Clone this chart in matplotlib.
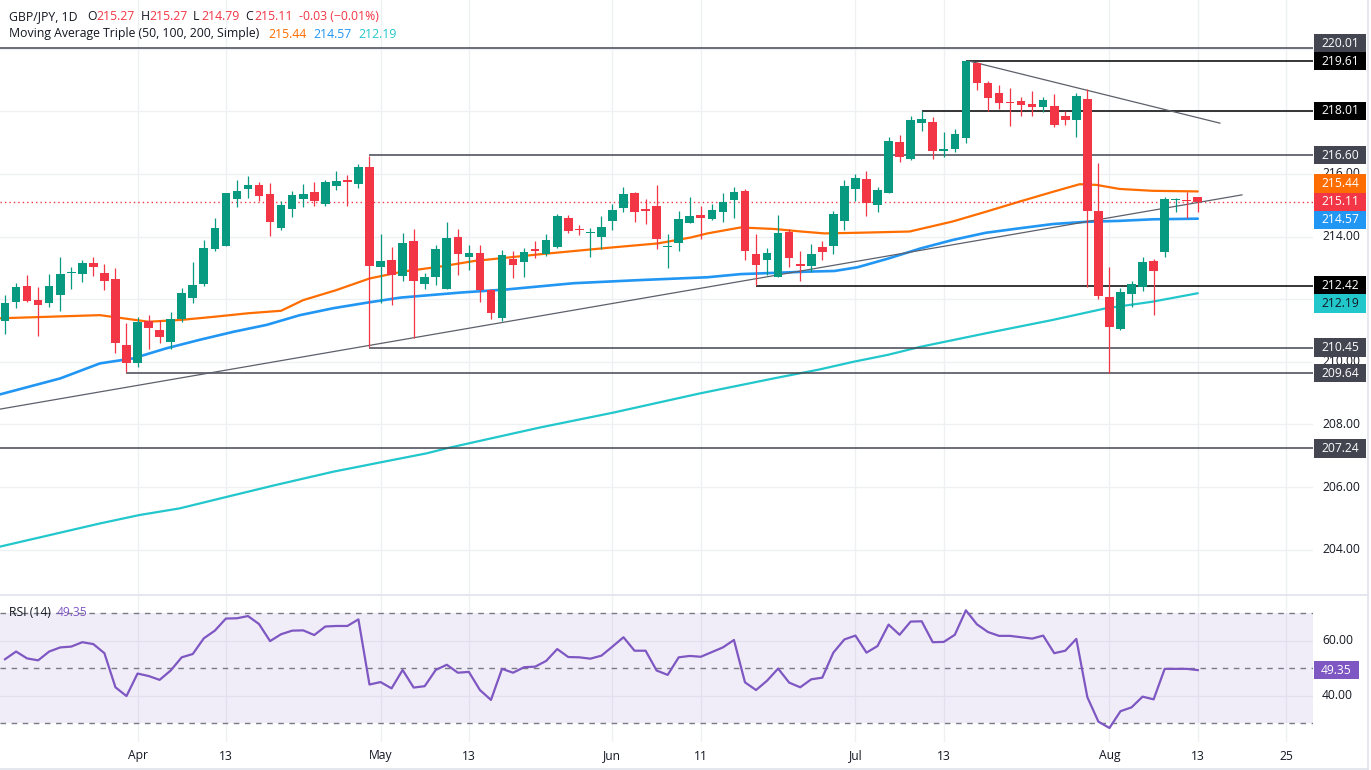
import matplotlib
matplotlib.use('Agg')
import matplotlib.pyplot as plt
import matplotlib.transforms as mtransforms
from matplotlib.patches import Rectangle

plt.rcParams['font.family'] = ['Open Sans', 'DejaVu Sans']

# ---------------- data ----------------
opens = [211.31, 211.92, 212.42, 211.97, 211.89, 212.14, 212.83, 212.80, 213.14, 212.83,
         212.63, 210.54, 209.97, 211.31, 211.02, 210.64, 211.36, 212.05, 212.48, 213.59,
         213.71, 215.19, 215.51, 215.64, 215.36, 214.26, 214.89, 215.21, 215.41, 215.03,
         215.62, 215.80, 215.67, 216.23, 213.04, 213.25, 212.74, 213.86, 212.50, 212.72,
         212.34, 213.99, 213.36, 213.46, 212.29, 211.41, 213.27, 213.20, 213.59, 213.44,
         213.68, 214.58, 214.23, 214.10, 214.00, 214.51, 214.92, 215.40, 214.87, 214.98,
         213.66, 213.80, 214.44, 214.69, 214.55, 214.79, 215.17, 215.46, 213.44, 213.25,
         212.72, 214.16, 213.12, 213.06, 213.68, 213.70, 214.51, 215.52, 215.83, 215.01,
         215.38, 217.01, 216.48, 217.64, 217.65, 216.73, 216.80, 217.16, 219.53, 218.91,
         218.59, 218.31, 218.33, 218.23, 218.13, 218.17, 217.85, 217.72, 218.38, 214.82,
         212.06, 211.05, 212.16, 212.40, 213.22, 213.51, 215.16, 215.17, 215.27]
highs = [212.13, 212.53, 212.77, 212.40, 212.80, 213.36, 213.04, 213.25, 213.34, 213.11,
         212.98, 211.25, 211.44, 211.49, 211.34, 211.60, 212.36, 213.20, 213.89, 214.58,
         215.40, 215.80, 215.93, 215.75, 215.70, 215.13, 215.45, 215.68, 215.75, 215.80,
         216.09, 215.96, 216.30, 216.58, 214.07, 213.68, 214.12, 214.25, 212.85, 213.73,
         214.47, 214.25, 213.73, 213.73, 212.31, 213.57, 213.55, 213.62, 213.87, 214.08,
         214.72, 214.69, 214.37, 214.26, 214.66, 215.03, 215.57, 215.43, 215.19, 215.65,
         214.08, 214.81, 215.27, 214.98, 215.04, 215.40, 215.59, 215.51, 214.08, 213.62,
         214.69, 214.23, 213.55, 213.75, 213.87, 214.81, 215.80, 216.00, 216.10, 215.57,
         217.17, 217.24, 217.85, 218.02, 217.81, 217.33, 217.42, 219.64, 219.58, 218.97,
         218.84, 218.73, 218.47, 218.65, 218.47, 218.55, 218.01, 218.57, 218.70, 216.36,
         213.04, 212.35, 212.59, 213.34, 213.28, 215.25, 215.24, 215.43, 215.27]
lows = [210.88, 211.71, 211.90, 210.84, 211.74, 211.63, 212.31, 212.56, 212.74, 212.29,
        210.27, 209.68, 209.84, 210.40, 210.59, 210.40, 211.28, 211.87, 212.42, 213.55,
        213.71, 214.95, 215.24, 215.15, 214.03, 214.21, 214.63, 214.95, 214.99, 214.99,
        215.49, 214.99, 215.54, 210.48, 211.87, 211.81, 212.59, 210.75, 212.32, 212.45,
        212.32, 212.77, 212.93, 211.92, 211.36, 211.31, 212.69, 212.70, 213.30, 213.38,
        213.62, 214.12, 214.05, 213.36, 213.59, 214.21, 214.79, 214.47, 214.40, 213.59,
        212.98, 213.54, 214.42, 213.91, 214.53, 214.47, 214.58, 213.25, 212.45, 212.77,
        212.70, 213.02, 212.59, 212.88, 213.25, 213.44, 214.21, 215.15, 214.66, 214.79,
        215.38, 216.37, 216.44, 217.38, 216.48, 216.53, 216.71, 216.98, 218.68, 218.01,
        218.07, 217.54, 217.85, 217.85, 217.99, 217.51, 217.56, 217.19, 212.40, 212.02,
        209.63, 211.02, 211.76, 212.27, 211.49, 213.34, 214.79, 214.58, 214.79]
closes = [211.87, 212.40, 211.95, 211.82, 212.42, 212.80, 212.88, 213.14, 213.04, 212.59,
          210.61, 209.95, 211.28, 211.07, 210.80, 211.36, 212.19, 212.45, 213.62, 214.26,
          215.38, 215.45, 215.64, 215.29, 214.48, 215.01, 215.33, 215.35, 215.12, 215.74,
          215.76, 215.75, 216.23, 213.07, 213.22, 212.77, 213.80, 212.58, 212.72, 213.61,
          213.95, 213.43, 213.49, 212.29, 211.55, 213.41, 213.09, 213.52, 213.55, 213.89,
          214.66, 214.18, 214.21, 214.12, 214.29, 214.85, 215.36, 214.79, 214.83, 213.91,
          213.70, 214.56, 214.66, 214.60, 214.85, 215.11, 215.43, 213.55, 213.09, 213.46,
          214.12, 213.33, 213.07, 213.44, 213.52, 214.72, 215.61, 215.86, 215.06, 215.49,
          217.05, 216.55, 217.72, 217.75, 216.74, 216.79, 217.26, 219.60, 218.89, 218.43,
          218.25, 218.27, 218.20, 218.15, 218.36, 217.56, 217.72, 218.49, 214.83, 212.11,
          211.12, 212.22, 212.50, 213.18, 212.91, 215.19, 215.20, 215.14, 215.11]

rsi = [53.3, 56.1, 53.6, 52.9, 56.1, 57.6, 57.9, 59.5, 58.8, 55.5,
       43.1, 39.9, 48.1, 47.2, 45.8, 49.2, 54.0, 55.2, 60.9, 63.7,
       68.1, 68.2, 69.0, 66.1, 59.9, 62.4, 63.7, 63.8, 62.1, 65.2,
       65.4, 65.4, 67.8, 44.1, 45.0, 42.7, 49.4, 43.0, 43.5, 49.4,
       51.3, 48.4, 48.7, 42.1, 38.5, 49.8, 48.4, 50.4, 50.6, 52.7,
       57.0, 54.1, 54.0, 53.5, 54.6, 57.9, 61.3, 56.4, 56.4, 49.2,
       47.6, 54.0, 54.5, 54.2, 55.9, 57.6, 60.3, 44.9, 42.1, 45.5,
       49.9, 44.8, 43.1, 46.0, 46.6, 55.7, 60.5, 61.9, 55.7, 58.1,
       65.9, 62.2, 67.0, 67.1, 59.5, 59.6, 62.2, 71.1, 66.0, 63.2,
       61.8, 61.8, 61.3, 60.8, 61.9, 55.5, 56.4, 60.7, 39.5, 30.6,
       28.3, 34.4, 35.8, 39.7, 38.7, 49.8, 49.8, 49.8, 49.35]

# moving averages, read at sample bars (bar index, value)
ma50_idx = [-0.45, 8.6, 13, 16, 19, 22, 25, 27, 30, 33, 36, 39.4, 42.5, 48.6, 54.6, 59.1,
            62.1, 63.6, 66.6, 69.7, 72.1, 74.2, 77.2, 81.9, 85.8, 88.8, 91.8, 94.9, 97.3,
            98.8, 100.9, 103.9, 108]
ma50_val = [211.39, 211.49, 211.28, 211.34, 211.44, 211.55, 211.63, 211.97, 212.29, 212.66,
            212.88, 213.04, 213.22, 213.44, 213.64, 213.78, 213.97, 214.10, 214.29, 214.24,
            214.16, 214.10, 214.12, 214.16, 214.48, 214.79, 215.11, 215.43, 215.67, 215.65,
            215.52, 215.46, 215.44]
ma100_idx = [-0.45, 5, 8.6, 11.6, 14.6, 17.6, 20.7, 23.7, 26.7, 29.7, 32.8, 35.8, 41.2, 45.4,
             51.5, 57.5, 63.6, 66.6, 72.7, 75.1, 77.2, 80, 82.9, 85.8, 88.8, 91.8, 94.9,
             97.9, 100.9, 103.9, 108]
ma100_val = [208.96, 209.47, 209.95, 210.11, 210.43, 210.70, 210.96, 211.18, 211.49, 211.71,
             211.89, 212.05, 212.21, 212.31, 212.51, 212.61, 212.70, 212.80, 212.88, 212.90,
             213.02, 213.30, 213.62, 213.89, 214.12, 214.26, 214.40, 214.47, 214.50, 214.55,
             214.57]
ma200_idx = [-0.45, 8.6, 12.2, 15.8, 20.1, 24.3, 29.7, 34, 38.2, 40, 48.4, 55.1, 62.9, 69.6,
             73.8, 76.8, 79.9, 82.9, 88.8, 94.9, 99.7, 103.9, 108]
ma200_val = [204.10, 204.84, 205.11, 205.32, 205.69, 206.05, 206.49, 206.79, 207.08, 207.24,
             207.90, 208.38, 208.99, 209.47, 209.76, 210.00, 210.22, 210.48, 210.91, 211.34,
             211.71, 211.92, 212.19]

# horizontal levels: price, first bar, style group
level_prices = [220.01, 219.61, 218.01, 216.60, 212.42, 210.45, 209.64, 207.24]
level_start = [-0.45, 87, 83, 33, 68, 33, 11, -0.45]
level_dark = [False, True, True, False, True, False, False, False]

# trendlines (bar index, price)
trend_up_idx = [-0.45, 112.0]
trend_up_px = [208.49, 215.33]
trend_dn_idx = [87.2, 110.0]
trend_dn_px = [219.61, 217.62]

# time axis
tick_pos = [12, 20, 34, 42, 55, 63, 77, 85, 100, 108, 116]
tick_lab = ['Apr', '13', 'May', '13', 'Jun', '11', 'Jul', '13', 'Aug', '13', '25']
price_grid = [204, 206, 208, 210, 212, 214, 216, 218, 220]
price_tick_labels = [204, 206, 208, 210, 214, 216]   # the others are hidden by level labels

# ---------------- styling ----------------
W, H = 1371, 770
UP, DN = '#089981', '#F23645'
C50, C100, C200 = '#FF6D00', '#2196F3', '#22C7CC'
GRAY_LINE = '#434651'
TXT = '#131722'
GRID = '#EEF0F4'
PURPLE = '#7E57C2'
BORDER = '#E0E3EB'

fig = plt.figure(figsize=(W / 100, H / 100), dpi=100)
fig.patch.set_facecolor('white')

plot_right = 1313
ax = fig.add_axes([0, 1 - 594 / H, plot_right / W, 594 / H])
axr = fig.add_axes([0, 1 - 742 / H, plot_right / W, (742 - 596) / H], sharex=ax)

x_left = -0.453
x_right = 118.43
ax.set_xlim(x_left, x_right)
ax.set_ylim(202.587, 221.552)
axr.set_ylim(23.2, 76.3)

for a in (ax, axr):
    for s in a.spines.values():
        s.set_visible(False)
    a.tick_params(left=False, right=False, bottom=False, top=False,
                  labelleft=False, labelbottom=False)
    for t in tick_pos:
        a.axvline(t, color=GRID, lw=1, zorder=0)

for p in price_grid:
    ax.axhline(p, color=GRID, lw=1, zorder=0)
for r in (60, 40):
    axr.axhline(r, color=GRID, lw=1, zorder=0)

# pane separator and outer border
fig.add_artist(plt.Line2D([0, 1367.5 / W], [1 - 595 / H, 1 - 595 / H], color=BORDER, lw=1.2,
                          transform=fig.transFigure))
fig.add_artist(plt.Line2D([1367.5 / W, 1367.5 / W], [0, 1], color=BORDER, lw=1.2,
                          transform=fig.transFigure))
fig.add_artist(plt.Line2D([0, 1367.5 / W], [0.7 / H, 0.7 / H], color=BORDER, lw=1.2,
                          transform=fig.transFigure))

# ---------------- candles ----------------
n = len(closes)
idx = list(range(n))
for i in idx:
    o, h, l, c = opens[i], highs[i], lows[i], closes[i]
    col = UP if c >= o else DN
    ax.vlines(i, l, h, color=col, lw=0.9, zorder=3)
    body = max(abs(c - o), 0.035)
    ax.bar(i, body, bottom=min(o, c), width=0.78, color=col, lw=0, zorder=4)

# moving averages
ax.plot(ma200_idx, ma200_val, color=C200, lw=1.6, zorder=2, solid_capstyle='round')
ax.plot(ma100_idx, ma100_val, color=C100, lw=1.9, zorder=2, solid_capstyle='round')
ax.plot(ma50_idx, ma50_val, color=C50, lw=1.6, zorder=2, solid_capstyle='round')

# horizontal levels
for p, s, dk in zip(level_prices, level_start, level_dark):
    ax.hlines(p, s, x_right, color='#000000' if dk else GRAY_LINE, lw=1.1, zorder=2.5)

# trendlines
ax.plot(trend_up_idx, trend_up_px, color='#5D606B', lw=0.9, zorder=2.6)
ax.plot(trend_dn_idx, trend_dn_px, color='#5D606B', lw=0.9, zorder=2.6)

# current price line
ax.axhline(closes[-1], color=DN, lw=1, ls=(0, (1, 2.2)), zorder=2.4)

# ---------------- price scale ----------------
ytr = ax.get_yaxis_transform()
fs_axis = 8.7
for p in price_tick_labels:
    ax.text(1322 / plot_right, p, f'{p:.2f}', transform=ytr, ha='left', va='center',
            fontsize=fs_axis, color=TXT, clip_on=False, zorder=3)

box_h_px = 18.5
ppx = (221.552 - 202.587) / 594.0
box_h = box_h_px * ppx
box_x0 = 1314 / plot_right
box_w = 52 / plot_right
box_tx = 1340 / plot_right

ma_last = [ma50_val[-1], ma100_val[-1], ma200_val[-1]]
# (label value, displayed centre, face colour, text colour)
boxes = [
    (220.01, 220.16, GRAY_LINE, 'white'),
    (219.61, 219.60, '#000000', 'white'),
    (218.01, 218.01, '#000000', 'white'),
    (216.60, 216.60, GRAY_LINE, 'white'),
    (ma_last[0], 215.70, C50, 'white'),
    (closes[-1], closes[-1], DN, 'white'),
    (ma_last[1], 214.53, C100, 'white'),
    (212.42, 212.43, '#000000', 'white'),
    (ma_last[2], 211.86, C200, TXT),
    (210.45, 210.45, GRAY_LINE, 'white'),
    (209.64, 209.64, GRAY_LINE, 'white'),
    (207.24, 207.24, GRAY_LINE, 'white'),
]
for val, cen, fc, tc in boxes:
    ax.add_patch(Rectangle((box_x0, cen - box_h / 2), box_w, box_h, transform=ytr,
                           facecolor=fc, edgecolor='none', clip_on=False, zorder=6))
    ax.text(box_tx, cen, f'{val:.2f}', transform=ytr, ha='center', va='center',
            fontsize=fs_axis, color=tc, clip_on=False, zorder=7)

# ---------------- RSI pane ----------------
axr.axhspan(30, 70, color=PURPLE, alpha=0.1, lw=0, zorder=0.5)
for lv in (70, 50, 30):
    axr.axhline(lv, color='#787B86', lw=1, ls=(0, (4, 4)), zorder=1)
axr.plot(idx, rsi, color=PURPLE, lw=1.6, zorder=3)

rtr = axr.get_yaxis_transform()
for r in (60, 40):
    axr.text(1322 / plot_right, r, f'{r:.2f}', transform=rtr, ha='left', va='center',
             fontsize=fs_axis, color=TXT, clip_on=False)
rppx = (76.3 - 23.2) / (742 - 596)
rb_h = box_h_px * rppx
axr.add_patch(Rectangle((box_x0, rsi[-1] - rb_h / 2), 45 / plot_right, rb_h, transform=rtr,
                        facecolor=PURPLE, edgecolor='none', clip_on=False, zorder=6))
axr.text(1336.5 / plot_right, rsi[-1], f'{rsi[-1]:.2f}', transform=rtr, ha='center',
         va='center', fontsize=fs_axis, color='white', clip_on=False, zorder=7)

# time axis labels
xtr = mtransforms.blended_transform_factory(axr.transData, fig.transFigure)
for t, lab in zip(tick_pos, tick_lab):
    axr.text(t, 1 - 756 / H, lab, transform=xtr, ha='center', va='center',
             fontsize=fs_axis, color=TXT, clip_on=False)

# ---------------- legends ----------------
def ftext(px, py, s, color, size=8.85):
    fig.text(px / W, 1 - py / H, s, color=color, fontsize=size, ha='left', va='center')

chg = closes[-1] - closes[-2]
pct = chg / closes[-2] * 100
mns = lambda v, d: (f'{v:.{d}f}').replace('-', '\u2212')
ftext(9, 17, 'GBP/JPY, 1D', TXT)
ftext(87, 17, 'O', TXT)
ftext(96, 17, f'{opens[-1]:.2f}', DN)
ftext(141, 17, 'H', TXT)
ftext(149, 17, f'{highs[-1]:.2f}', DN)
ftext(193, 17, 'L', TXT)
ftext(201, 17, f'{lows[-1]:.2f}', DN)
ftext(245, 17, 'C', TXT)
ftext(254, 17, f'{closes[-1]:.2f}', DN)
ftext(299, 17, f'{chg:.2f} ({mns(pct, 2)}%)', DN)

ftext(9, 34, 'Moving Average Triple (50, 100, 200, Simple)', TXT)
ftext(268, 34, f'{ma_last[0]:.2f}', C50)
ftext(313, 34, f'{ma_last[1]:.2f}', C100)
ftext(358, 34, f'{ma_last[2]:.2f}', C200)

ftext(9, 612, 'RSI (14)', TXT, 8.7)
ftext(57, 612, f'{rsi[-1]:.2f}', PURPLE, 8.7)

fig.savefig('out.png', dpi=100, facecolor='white')
